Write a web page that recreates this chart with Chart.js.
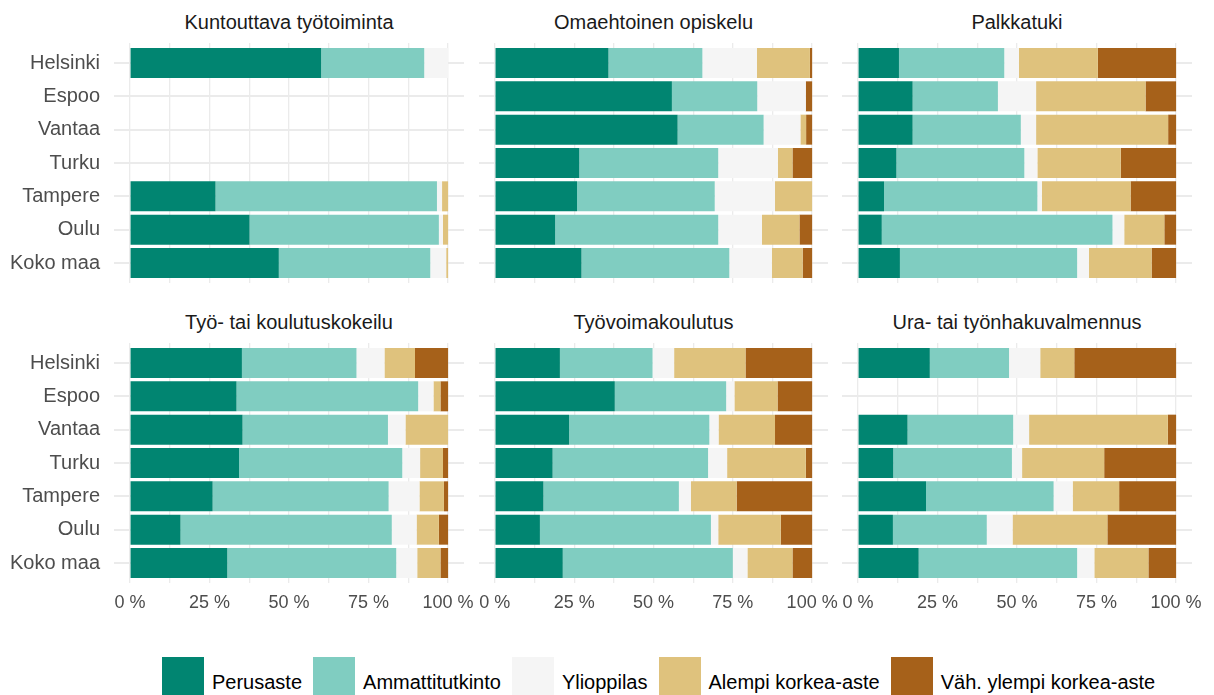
<!DOCTYPE html>
<html lang="fi">
<head>
<meta charset="UTF-8">
<title>Koulutustaso palveluittain</title>
<style>
  body { margin: 0; width: 1214px; height: 695px; overflow: hidden; background: #fff;
         font-family: "Liberation Sans", Arial, sans-serif; position: relative; }
  canvas { position: absolute; }
  .title { position: absolute; text-align: center; font-size: 20px; line-height: 24px; color: #1a1a1a; }
  #legend { position: absolute; left: 162px; top: 657px; display: flex; align-items: flex-start; }
  #legend .key { width: 42px; height: 42px; margin-right: 8px; }
  #legend .txt { font-size: 20px; line-height: 24px; padding-top: 13px; margin-right: 11px; color: #000; white-space: nowrap; }
</style>
</head>
<body>
<div id="legend"></div>

<script src="https://cdn.jsdelivr.net/npm/chart.js"></script>
<script>
const cities = ['Helsinki', 'Espoo', 'Vantaa', 'Turku', 'Tampere', 'Oulu', 'Koko maa'];
const levels = ['Perusaste', 'Ammattitutkinto', 'Ylioppilas', 'Alempi korkea-aste', 'Väh. ylempi korkea-aste'];
const colors = ['#018571', '#80cdc1', '#f5f5f5', '#dfc27d', '#a6611a'];
const xTicks = [0, 12.5, 25, 37.5, 50, 62.5, 75, 87.5, 100];

// rows: perusaste, ammattitutkinto, ylioppilas, alempi, väh. ylempi (% per city)
const kuntouttava = [
    [60.1, null, null, null, 26.9, 37.6, 46.8],
    [32.4, null, null, null, 69.6, 59.5, 47.6],
    [7.5, null, null, null, 1.6, 1.3, 5.0],
    [0, null, null, null, 1.9, 1.6, 0.6],
    [0, null, null, null, 0, 0, 0]
];
const omaehtoinen = [
    [35.8, 55.8, 57.6, 26.6, 25.9, 19.0, 27.3],
    [29.6, 26.9, 27.1, 43.8, 43.4, 51.4, 46.6],
    [17.2, 15.3, 11.6, 18.8, 19.0, 13.8, 13.4],
    [16.7, 0, 1.8, 4.6, 11.7, 11.8, 9.7],
    [0.7, 2.0, 1.9, 6.2, 0, 4.0, 3.0]
];
const palkkatuki = [
    [12.9, 17.2, 17.2, 12.1, 8.2, 7.5, 13.2],
    [33.1, 26.8, 34.0, 40.2, 48.2, 72.5, 55.7],
    [4.6, 12.0, 4.8, 4.1, 1.4, 3.7, 3.7],
    [24.8, 34.4, 41.5, 26.2, 27.9, 12.6, 19.7],
    [24.6, 9.6, 2.5, 17.4, 14.3, 3.7, 7.7]
];
const kokeilu = [
    [35.2, 33.5, 35.4, 34.3, 26.0, 15.9, 30.6],
    [36.0, 57.1, 45.7, 51.3, 55.3, 66.4, 53.1],
    [8.8, 4.8, 5.5, 5.6, 9.7, 7.8, 6.6],
    [9.6, 2.2, 13.4, 7.2, 7.7, 7.0, 7.3],
    [10.4, 2.4, 0, 1.6, 1.3, 2.9, 2.4]
];
const tyovoimakoulutus = [
    [20.5, 37.8, 23.4, 18.2, 15.3, 14.2, 21.4],
    [29.2, 35.1, 44.2, 49.0, 42.7, 53.9, 53.6],
    [6.8, 2.6, 2.9, 6.0, 3.8, 2.3, 4.6],
    [22.5, 13.6, 17.8, 24.8, 14.4, 19.7, 14.2],
    [21.0, 10.9, 11.7, 2.0, 23.8, 9.9, 6.2]
];
const valmennus = [
    [22.6, null, 15.6, 11.1, 21.4, 11.0, 19.1],
    [24.9, null, 33.2, 37.3, 40.1, 29.5, 49.8],
    [9.8, null, 5.0, 3.2, 6.0, 8.1, 5.4],
    [10.7, null, 43.6, 25.8, 14.6, 29.8, 17.0],
    [32.0, null, 2.6, 22.6, 17.9, 21.6, 8.7]
];

const panels = [
    { title: 'Kuntouttava työtoiminta', data: kuntouttava },
    { title: 'Omaehtoinen opiskelu', data: omaehtoinen },
    { title: 'Palkkatuki', data: palkkatuki },
    { title: 'Työ- tai koulutuskokeilu', data: kokeilu },
    { title: 'Työvoimakoulutus', data: tyovoimakoulutus },
    { title: 'Ura- tai työnhakuvalmennus', data: valmennus }
];

// canvas placement: panel area includes the 5 % expansion on both sides
const cols = [
    { left: 0, width: 476, yw: 114, pr: 12 },
    { left: 479, width: 360, yw: 0, pr: 11 },
    { left: 842, width: 372, yw: 0, pr: 22 }
];
const rows = [
    { top: 40, height: 246, xh: 0, pb: 3, titleTop: 10 },
    { top: 340, height: 275, xh: 30, pb: 2, titleTop: 310 }
];

// no automatic label padding, the panels are placed by hand
function noPad(s) {
    s.paddingTop = 0;
    s.paddingBottom = 0;
    s.paddingLeft = 0;
    s.paddingRight = 0;
}

Chart.defaults.font.family = '"Liberation Sans", Arial, sans-serif';

panels.forEach((p, n) => {
    const r = Math.floor(n / 3), c = n % 3;
    const row = rows[r], col = cols[c];

    const cv = document.createElement('canvas');
    cv.width = col.width;
    cv.height = row.height;
    cv.style.left = col.left + 'px';
    cv.style.top = row.top + 'px';
    document.body.appendChild(cv);

    // title centred over 0..100 %
    const areaW = col.width - col.yw - col.pr;
    const x0 = col.left + col.yw + areaW * 5 / 110;
    const t = document.createElement('div');
    t.className = 'title';
    t.textContent = p.title;
    t.style.left = x0 + 'px';
    t.style.width = (areaW * 100 / 110) + 'px';
    t.style.top = row.titleTop + 'px';
    document.body.appendChild(t);

    new Chart(cv, {
        type: 'bar',
        data: {
            datasets: levels.map((lab, k) => ({
                label: lab,
                data: cities.map((city, i) => ({ x: p.data[k][i], y: i + 1 })).filter(d => d.x !== null),
                backgroundColor: colors[k],
                borderWidth: 0,
                barPercentage: 0.9,
                categoryPercentage: 1
            }))
        },
        options: {
            indexAxis: 'y',
            responsive: false,
            animation: false,
            layout: { autoPadding: false, padding: { top: 3, bottom: row.pb, left: 0, right: col.pr } },
            plugins: { legend: { display: false }, tooltip: { enabled: false } },
            scales: {
                x: {
                    type: 'linear',
                    stacked: true,
                    min: -5,
                    max: 105,
                    afterBuildTicks: s => { s.ticks = xTicks.map(v => ({ value: v })); },
                    afterFit: s => { s.height = row.xh; noPad(s); },
                    grid: { color: '#ebebeb', lineWidth: 1.3, drawTicks: false },
                    border: { display: false },
                    ticks: {
                        display: r === 1,
                        autoSkip: false,
                        maxRotation: 0,
                        padding: 9,
                        color: '#4d4d4d',
                        font: { size: 18 },
                        callback: v => (v % 25 === 0 ? v + ' %' : '')
                    }
                },
                y: {
                    type: 'linear',
                    stacked: true,
                    reverse: true,
                    offset: false,
                    min: 0.4,
                    max: 7.6,
                    afterBuildTicks: s => { s.ticks = cities.map((city, i) => ({ value: i + 1 })); },
                    afterFit: s => { s.width = col.yw; noPad(s); },
                    grid: { color: '#ebebeb', lineWidth: 2, drawTicks: false, offset: false },
                    border: { display: false },
                    ticks: {
                        display: c === 0,
                        autoSkip: false,
                        padding: 14,
                        color: '#4d4d4d',
                        font: { size: 20 },
                        callback: v => cities[v - 1]
                    }
                }
            }
        }
    });
});

// legend
const legend = document.getElementById('legend');
levels.forEach((lab, k) => {
    const key = document.createElement('span');
    key.className = 'key';
    key.style.background = colors[k];
    const txt = document.createElement('span');
    txt.className = 'txt';
    txt.textContent = lab;
    legend.appendChild(key);
    legend.appendChild(txt);
});
</script>
</body>
</html>
